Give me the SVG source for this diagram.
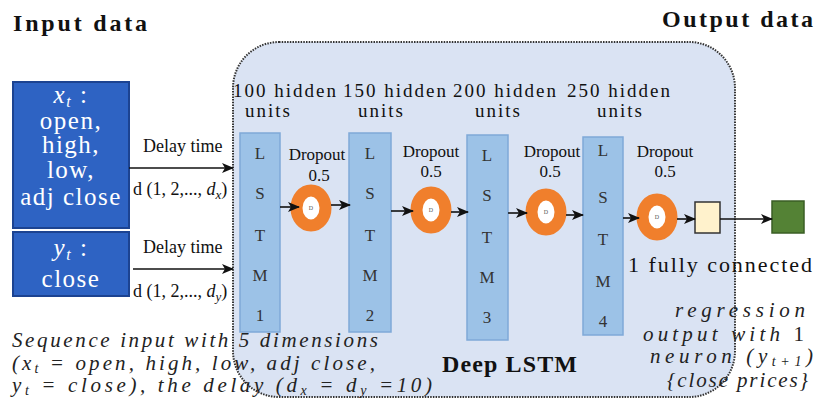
<svg xmlns="http://www.w3.org/2000/svg" width="817" height="401" viewBox="0 0 817 401">
<defs>
<marker id="ah" markerWidth="12" markerHeight="10" refX="11" refY="5" orient="auto" markerUnits="userSpaceOnUse">
<path d="M0,0 L12,5 L0,10 L3,5 Z" fill="#111"/>
</marker>
<style>
.title{font-family:"Liberation Serif",serif;font-weight:bold;font-size:24px;fill:#111}
.inbox{fill:#2e63c3;stroke:#1c4391;stroke-width:2}
.intext{font-family:"Liberation Serif",serif;font-size:25px;fill:#fff;text-anchor:middle;letter-spacing:1.5px}
.delay{font-family:"Liberation Serif",serif;font-size:18px;fill:#111}
.lstm{fill:#9cc2e7;stroke:#7fa9d8;stroke-width:1.5}
.lt{font-family:"Liberation Serif",serif;font-size:17px;fill:#333;text-anchor:middle}
.hid{font-family:"Liberation Serif",serif;font-size:19px;fill:#111;letter-spacing:2px}
.dp{font-family:"Liberation Serif",serif;font-size:17px;fill:#111;text-anchor:middle}
.ring{fill:#fff;stroke:#f07f2c;stroke-width:12}
.dlab{font-family:"Liberation Serif",serif;font-size:6px;fill:#555;text-anchor:middle}
.conn{stroke:#111;stroke-width:1.6;fill:none;marker-end:url(#ah)}
.it{font-family:"Liberation Serif",serif;font-style:italic;font-size:21px;fill:#222}
</style>
</defs>
<rect width="817" height="401" fill="#fff"/>

<g id="deep-lstm">
<rect x="233" y="42" width="502" height="355" rx="46" ry="46" fill="#dae3f3" stroke="#333" stroke-width="2" stroke-dasharray="1.5 1.2"/>
<text class="title" x="442" y="372" font-size="23" textLength="135" lengthAdjust="spacing">Deep LSTM</text>
</g>

<text class="title" x="13" y="31" textLength="134" lengthAdjust="spacing">Input data</text>
<text class="title" x="662" y="27" textLength="151" lengthAdjust="spacing">Output data</text>

<g id="input-x">
<rect class="inbox" x="13" y="82" width="116" height="146"/>
<text class="intext" x="71" y="103"><tspan font-style="italic">x</tspan><tspan font-style="italic" font-size="16" dy="4">t</tspan><tspan dy="-4"> :</tspan></text>
<text class="intext" x="71" y="129">open,</text>
<text class="intext" x="71" y="153">high,</text>
<text class="intext" x="71" y="178">low,</text>
<text class="intext" x="71" y="205">adj close</text>
</g>

<g id="input-y">
<rect class="inbox" x="13" y="232" width="116" height="64"/>
<text class="intext" x="71" y="256"><tspan font-style="italic">y</tspan><tspan font-style="italic" font-size="16" dy="4">t</tspan><tspan dy="-4"> :</tspan></text>
<text class="intext" x="71" y="287">close</text>
</g>

<g id="delay-labels">
<text class="delay" x="143" y="152">Delay time</text>
<text class="delay" x="133" y="195">d (1, 2,..., <tspan font-style="italic">d</tspan><tspan font-style="italic" font-size="13" dy="4">x</tspan><tspan dy="-4">)</tspan></text>
<text class="delay" x="143" y="253">Delay time</text>
<text class="delay" x="133" y="297">d (1, 2,..., <tspan font-style="italic">d</tspan><tspan font-style="italic" font-size="13" dy="4">y</tspan><tspan dy="-4">)</tspan></text>
</g>

<g id="hidden-labels">
<text class="hid" x="233" y="97">100 hidden</text>
<text class="hid" x="245" y="117">units</text>
<text class="hid" x="343" y="97">150 hidden</text>
<text class="hid" x="358" y="117">units</text>
<text class="hid" x="453" y="97">200 hidden</text>
<text class="hid" x="475" y="117">units</text>
<text class="hid" x="567" y="97">250 hidden</text>
<text class="hid" x="597" y="117">units</text>
</g>

<g id="lstm1">
<rect class="lstm" x="240" y="133" width="40" height="199"/>
<text class="lt" x="260" y="159">L</text><text class="lt" x="260" y="199">S</text><text class="lt" x="260" y="241">T</text><text class="lt" x="260" y="281">M</text><text class="lt" x="260" y="321">1</text>
</g>
<g id="lstm2">
<rect class="lstm" x="349" y="133" width="42" height="199"/>
<text class="lt" x="370" y="159">L</text><text class="lt" x="370" y="199">S</text><text class="lt" x="370" y="241">T</text><text class="lt" x="370" y="281">M</text><text class="lt" x="370" y="321">2</text>
</g>
<g id="lstm3">
<rect class="lstm" x="467" y="135" width="41" height="205"/>
<text class="lt" x="487" y="161">L</text><text class="lt" x="487" y="201">S</text><text class="lt" x="487" y="243">T</text><text class="lt" x="487" y="283">M</text><text class="lt" x="487" y="323">3</text>
</g>
<g id="lstm4">
<rect class="lstm" x="583" y="137" width="40" height="198"/>
<text class="lt" x="603" y="156">L</text><text class="lt" x="603" y="203">S</text><text class="lt" x="603" y="245">T</text><text class="lt" x="603" y="287">M</text><text class="lt" x="603" y="327">4</text>
</g>

<g id="dropout1">
<text class="dp" x="317" y="160">Dropout</text><text class="dp" x="319" y="181">0.5</text>
<ellipse class="ring" cx="311" cy="208" rx="14.5" ry="17.5"/>
<text class="dlab" x="311" y="210">D</text>
</g>
<g id="dropout2">
<text class="dp" x="431" y="157">Dropout</text><text class="dp" x="431" y="177">0.5</text>
<ellipse class="ring" cx="431" cy="210" rx="14.5" ry="17.5"/>
<text class="dlab" x="431" y="212">D</text>
</g>
<g id="dropout3">
<text class="dp" x="552" y="157">Dropout</text><text class="dp" x="550" y="177">0.5</text>
<ellipse class="ring" cx="546" cy="212" rx="14.5" ry="17.5"/>
<text class="dlab" x="546" y="214">D</text>
</g>
<g id="dropout4">
<text class="dp" x="665" y="157">Dropout</text><text class="dp" x="665" y="177">0.5</text>
<ellipse class="ring" cx="657" cy="217" rx="14.5" ry="17.5"/>
<text class="dlab" x="657" y="219">D</text>
</g>

<g id="fully-connected">
<rect x="695" y="202" width="25" height="31" fill="#fff2cc" stroke="#333" stroke-width="1.5"/>
<text x="628" y="272" font-family="Liberation Serif, serif" font-size="22" fill="#111" textLength="184" lengthAdjust="spacing">1 fully connected</text>
</g>
<g id="output">
<rect x="772" y="201" width="32" height="32" fill="#548235" stroke="#3a5e24" stroke-width="1.5"/>
</g>

<g id="connectors">
<line class="conn" x1="129" y1="168" x2="233" y2="168"/>
<line class="conn" x1="133" y1="269" x2="233" y2="269"/>
<line class="conn" x1="280" y1="207" x2="299" y2="207"/>
<line class="conn" x1="331" y1="205" x2="350" y2="205"/>
<line class="conn" x1="391" y1="211" x2="413" y2="211"/>
<line class="conn" x1="451" y1="212" x2="468" y2="212"/>
<line class="conn" x1="508" y1="213" x2="527" y2="213"/>
<line class="conn" x1="566" y1="215" x2="583" y2="215"/>
<line class="conn" x1="623" y1="218" x2="639" y2="218"/>
<line class="conn" x1="677" y1="219" x2="695" y2="219"/>
<line class="conn" x1="720" y1="219" x2="772" y2="219"/>
</g>

<g id="caption-left">
<text class="it" x="12" y="347" textLength="366" lengthAdjust="spacing">Sequence input with 5 dimensions</text>
<text class="it" x="12" y="370" textLength="363" lengthAdjust="spacing">(x<tspan font-size="14" dy="3">t</tspan><tspan dy="-3"> = open, high, low, adj close,</tspan></text>
<text class="it" x="12" y="392" textLength="420" lengthAdjust="spacing">y<tspan font-size="14" dy="3">t</tspan><tspan dy="-3"> = close), the delay (d</tspan><tspan font-size="14" dy="3">x</tspan><tspan dy="-3"> = d</tspan><tspan font-size="14" dy="3">y</tspan><tspan dy="-3"> =10)</tspan></text>
</g>

<g id="caption-right">
<text class="it" x="675" y="317" textLength="130" lengthAdjust="spacing">regression</text>
<text class="it" x="643" y="341" textLength="161" lengthAdjust="spacing">output with <tspan font-style="normal">1</tspan></text>
<text class="it" x="650" y="363" textLength="163" lengthAdjust="spacing">neuron (y<tspan font-size="14" dy="3">t+1</tspan><tspan dy="-3">)</tspan></text>
<text class="it" x="667" y="387" textLength="141" lengthAdjust="spacing">{close prices}</text>
</g>
</svg>
